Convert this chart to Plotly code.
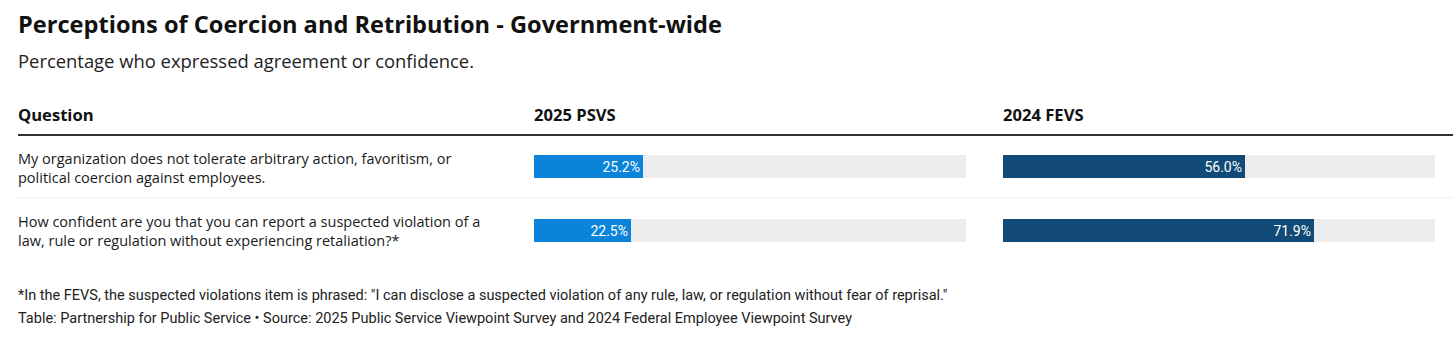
import plotly.graph_objects as go

W, H = 1456, 346

title = "Perceptions of Coercion and Retribution - Government-wide"
subtitle = "Percentage who expressed agreement or confidence."
col_headers = ["Question", "2025 PSVS", "2024 FEVS"]
questions = [
    "My organization does not tolerate arbitrary action, favoritism, or<br>political coercion against employees.",
    "How confident are you that you can report a suspected violation of a<br>law, rule or regulation without experiencing retaliation?*",
]
psvs_2025 = [25.2, 22.5]
fevs_2024 = [56.0, 71.9]
footnote = ("*In the FEVS, the suspected violations item is phrased: \"I can disclose a suspected "
            "violation of any rule, law, or regulation without fear of reprisal.\"")
source = ("Table: Partnership for Public Service \u2022 Source: 2025 Public Service Viewpoint Survey "
          "and 2024 Federal Employee Viewpoint Survey")

BLUE = "#0a84d8"
NAVY = "#114a76"
TRACK = "#ececec"
HEAD_FONT = "Open Sans"
BODY_FONT = "Roboto, sans-serif"


def px_x(x):
    return x / W


def px_y(y):
    return 1 - y / H


rows = list(range(len(questions)))

fig = go.Figure()

panels = [
    (psvs_2025, BLUE, "x", "y", (534, 966)),
    (fevs_2024, NAVY, "x2", "y2", (1003, 1435)),
]

for vals, color, xa, ya, _ in panels:
    # grey track behind each bar
    fig.add_trace(go.Bar(
        x=[100] * len(vals), y=rows, orientation="h", xaxis=xa, yaxis=ya,
        marker=dict(color=TRACK, line=dict(width=0)), width=0.355,
        hoverinfo="skip", showlegend=False,
    ))
    fig.add_trace(go.Bar(
        x=vals, y=rows, orientation="h", xaxis=xa, yaxis=ya,
        marker=dict(color=color, line=dict(width=0)), width=0.355,
        text=[f"{v:.1f}%" for v in vals], textposition="inside",
        insidetextanchor="end", textangle=0,
        insidetextfont=dict(color="white", size=14, family=BODY_FONT),
        cliponaxis=False, showlegend=False,
    ))

ytop, ybot = 135.25, 262.25
layout_axes = {}
for i, (_, _, xa, ya, (x0, x1)) in enumerate(panels):
    xkey = "xaxis" if i == 0 else "xaxis2"
    ykey = "yaxis" if i == 0 else "yaxis2"
    layout_axes[xkey] = dict(domain=[px_x(x0), px_x(x1)], range=[0, 100],
                             visible=False, fixedrange=True,
                             anchor="y" if i == 0 else "y2")
    layout_axes[ykey] = dict(domain=[px_y(ybot), px_y(ytop)], range=[1.5, -0.5],
                             visible=False, fixedrange=True,
                             anchor="x" if i == 0 else "x2")

# text boxes carry ~2px of padding, so anchor slightly left of the visual edge
TX = 16
annotations = [
    dict(text=f"<b>{title}</b>", x=px_x(TX), y=px_y(24), xref="paper", yref="paper",
         xanchor="left", yanchor="middle", showarrow=False,
         font=dict(family=HEAD_FONT, size=23.6, color="#111")),
    dict(text=subtitle, x=px_x(TX), y=px_y(61), xref="paper", yref="paper",
         xanchor="left", yanchor="middle", showarrow=False,
         font=dict(family=HEAD_FONT, size=18.4, color="#222")),
]
for label, xpos in zip(col_headers, [TX, 532, 1001]):
    annotations.append(dict(text=f"<b>{label}</b>", x=px_x(xpos), y=px_y(114),
                            xref="paper", yref="paper", xanchor="left", yanchor="middle",
                            showarrow=False,
                            font=dict(family=HEAD_FONT, size=16.6, color="#111")))
for q, yc in zip(questions, [167.5, 230.5]):
    annotations.append(dict(text=q, x=px_x(TX), y=px_y(yc), xref="paper", yref="paper",
                            xanchor="left", yanchor="middle", align="left", showarrow=False,
                            font=dict(family=HEAD_FONT, size=14.5, color="#1a1a1a")))
annotations.append(dict(text=footnote, x=px_x(TX), y=px_y(295), xref="paper", yref="paper",
                        xanchor="left", yanchor="middle", showarrow=False,
                        font=dict(family=BODY_FONT, size=14.5, color="#222")))
annotations.append(dict(text=source, x=px_x(TX), y=px_y(318), xref="paper", yref="paper",
                        xanchor="left", yanchor="middle", showarrow=False,
                        font=dict(family=BODY_FONT, size=14.5, color="#222")))

shapes = [
    dict(type="line", xref="paper", yref="paper", x0=px_x(18), x1=px_x(1453),
         y0=px_y(135), y1=px_y(135), line=dict(color="#333", width=2)),
    dict(type="line", xref="paper", yref="paper", x0=px_x(18), x1=px_x(1453),
         y0=px_y(198), y1=px_y(198), line=dict(color="#eeeeee", width=1)),
]

fig.update_layout(
    width=W, height=H, margin=dict(l=0, r=0, t=0, b=0),
    paper_bgcolor="white", plot_bgcolor="white",
    barmode="overlay", bargap=0,
    annotations=annotations, shapes=shapes,
    **layout_axes,
)

fig.write_html("out.html", config={"displayModeBar": False})
